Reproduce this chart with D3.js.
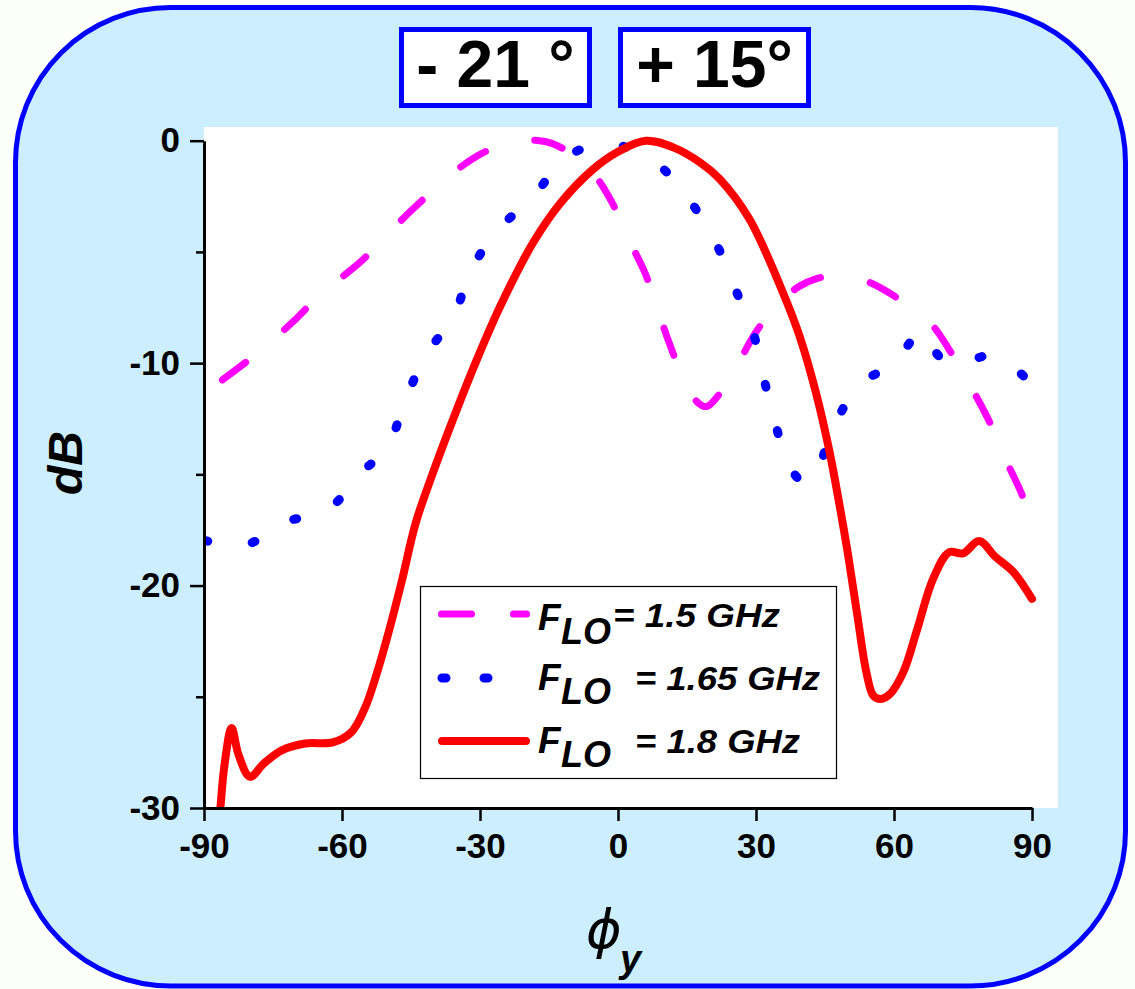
<!DOCTYPE html>
<html>
<head>
<meta charset="utf-8">
<script src="https://cdn.jsdelivr.net/npm/d3@7"></script>
<style>
  body { margin: 0; background: #fdfffd; }
  svg { display: block; font-family: "Liberation Sans", Arial, sans-serif; }
</style>
</head>
<body>
<svg id="chart" width="1135" height="989"></svg>
<script>
// angle (deg) / gain (dB) pairs
const flo15 = [
  [-86, -10.75], [-79, -9.65], [-70.6, -8.13], [-64.8, -6.93], [-56, -5.45], [-51, -4.4],
  [-45, -3.15], [-40, -2.2], [-36.5, -1.54], [-29.6, -0.57], [-25, -0.2], [-21.3, 0],
  [-17, 0], [-14.4, -0.12], [-10, -0.6], [-5.4, -1.46], [-1.4, -2.74], [2.6, -4.54],
  [5.9, -5.96], [8.9, -7.76], [11.3, -9.18], [14.7, -10.95], [17.5, -11.8], [19.3, -11.95],
  [22.2, -11.35], [25.4, -10.38], [27.5, -9.5], [29.8, -8.66], [32.5, -7.9], [35.2, -7.31],
  [39, -6.6], [43.5, -6.18], [48.3, -6.04], [50.8, -6.1], [55, -6.4], [59.1, -6.86],
  [62.8, -7.38], [66.4, -7.83], [69.5, -8.6], [72.5, -9.56], [76.5, -10.98], [80.9, -12.7],
  [83.8, -14.13], [87.8, -15.9], [90.3, -17.4]
];
const flo165 = [
  [-89.8, -17.98], [-85, -18.15], [-81.1, -18.17], [-76, -17.7], [-72, -17.12], [-64.4, -16.75],
  [-60, -16], [-57.2, -15.15], [-53, -14.4], [-49.9, -13.68], [-45.9, -11.52], [-41.8, -9.63],
  [-35.8, -7.94], [-32.3, -6.0], [-26.7, -4.13], [-18.8, -2.59], [-11.9, -0.87], [-7, -0.3],
  [-2.5, -0.15], [2, -0.3], [6.4, -0.72], [10, -1.3], [13.8, -2.15], [19.6, -3.97],
  [22.2, -4.99], [25.9, -6.86], [29.6, -8.78], [31.7, -10.68], [34.1, -12.63], [37.1, -14.58],
  [40, -15.3], [42.5, -15.25], [46.1, -13.23], [50.7, -11.47], [55, -10.6], [59.7, -10.16],
  [63, -9.2], [66, -8.55], [69, -9.5], [72.2, -10.08], [76, -9.9], [81.4, -9.66],
  [86, -10.2], [89.6, -10.86]
];
const flo18 = [
  [-86.6, -30.5], [-85.5, -28], [-84, -26.4], [-82.5, -27.6], [-80, -28.6], [-77, -28],
  [-73, -27.4], [-68, -27.1], [-62, -27.05], [-58, -26.6], [-55, -25.5], [-52.5, -24],
  [-50, -22.2], [-47, -19.8], [-44, -17.2], [-40, -14.8], [-36, -12.6], [-31, -10],
  [-25.5, -7.4], [-18.5, -4.6], [-12.5, -2.8], [-5.5, -1.3], [0, -0.5], [6, 0],
  [12, -0.3], [18, -1.0], [22, -1.7], [28.5, -3.5], [36, -6.9], [39.5, -8.8],
  [43, -11.3], [46, -14], [48, -16.2], [50, -18.6], [52, -21.3], [54, -23.9],
  [55.5, -24.95], [57, -25.1], [59, -24.9], [62, -23.9],
  [65, -22], [68.5, -19.7], [72, -18.5], [75, -18.55], [78.5, -18], [82, -18.7],
  [86, -19.4], [90, -20.6]
];
const xTicks = [-90, -60, -30, 0, 30, 60, 90];
const yTicks = [0, -10, -20, -30];
const yMinor = [-5, -15, -25];
const titles = ["- 21 °", "+ 15°"];
const legendValues = ["= 1.5 GHz", "= 1.65 GHz", "= 1.8 GHz"];

const svg = d3.select('#chart');

// rounded background panel
svg.append('rect')
  .attr('x', 15.5).attr('y', 7.5)
  .attr('width', 1110).attr('height', 978.5)
  .attr('rx', 155).attr('ry', 155)
  .attr('fill', '#cceeff')
  .attr('stroke', '#0000ff')
  .attr('stroke-width', 5);

// title boxes
const titleBoxes = [{x: 401.5, w: 188}, {x: 620.5, w: 188}];
titleBoxes.forEach((b, i) => {
  svg.append('rect')
    .attr('x', b.x).attr('y', 29.5)
    .attr('width', b.w).attr('height', 76)
    .attr('fill', '#fff')
    .attr('stroke', '#0000ff')
    .attr('stroke-width', 5);
  svg.append('text')
    .attr('x', b.x + b.w / 2).attr('y', 87)
    .attr('text-anchor', 'middle')
    .attr('font-size', 66)
    .attr('font-weight', 'bold')
    .text(titles[i]);
});

const x = d3.scaleLinear().domain([-90, 90]).range([204, 1032]);
const y = d3.scaleLinear().domain([-30, 0]).range([808, 140.7]);

// plot area
svg.append('rect')
  .attr('x', 204).attr('y', 127)
  .attr('width', 854).attr('height', 681)
  .attr('fill', '#fff');

svg.append('defs').append('clipPath').attr('id', 'plotclip')
  .append('rect')
  .attr('x', 204).attr('y', 120)
  .attr('width', 860).attr('height', 688);

const line = d3.line()
  .x(d => x(d[0]))
  .y(d => y(d[1]))
  .curve(d3.curveCatmullRom.alpha(0.5));

const series = [
  {data: flo15, color: '#ff00ff', width: 7, dash: '29,51'},
  {data: flo165, color: '#0000ff', width: 9, dash: '3,45'},
  {data: flo18, color: '#ff0000', width: 8, dash: null}
];

const curves = svg.append('g').attr('clip-path', 'url(#plotclip)');
series.forEach(s => {
  curves.append('path')
    .datum(s.data)
    .attr('d', line)
    .attr('fill', 'none')
    .attr('stroke', s.color)
    .attr('stroke-width', s.width)
    .attr('stroke-linecap', 'round')
    .attr('stroke-linejoin', 'round')
    .attr('stroke-dasharray', s.dash);
});

// axes (plain hyphen for negatives, as in the original)
const fmt = d => String(d);
const xAxis = svg.append('g')
  .attr('transform', 'translate(0,808)')
  .call(d3.axisBottom(x).tickValues(xTicks).tickFormat(fmt).tickSize(13).tickSizeOuter(0).tickPadding(12));
const yAxis = svg.append('g')
  .attr('transform', 'translate(204,0)')
  .call(d3.axisLeft(y).tickValues(yTicks).tickFormat(fmt).tickSize(14).tickSizeOuter(0).tickPadding(10));
svg.append('g')
  .attr('transform', 'translate(204,0)')
  .call(d3.axisLeft(y).tickValues(yMinor).tickSize(8).tickFormat(''))
  .select('.domain').remove();

svg.selectAll('.domain').attr('stroke', '#000').attr('stroke-width', 3);
svg.selectAll('.tick line').attr('stroke', '#000').attr('stroke-width', 2.5);
[xAxis, yAxis].forEach(a => a.selectAll('text')
  .attr('font-size', 35)
  .attr('font-weight', 'bold')
  .attr('font-family', '"Liberation Sans", Arial, sans-serif')
  .attr('fill', '#000'));

// axis titles
svg.append('text')
  .attr('transform', 'translate(82,463) rotate(-90)')
  .attr('text-anchor', 'middle')
  .attr('font-size', 48)
  .attr('font-weight', 'bold')
  .attr('font-style', 'italic')
  .text('dB');

svg.append('text')
  .attr('x', 586).attr('y', 948)
  .attr('font-size', 54)
  .attr('font-style', 'italic')
  .attr('font-family', '"DejaVu Sans", sans-serif')
  .text('ϕ');
svg.append('text')
  .attr('x', 620).attr('y', 972)
  .attr('font-size', 38)
  .attr('font-weight', 'bold')
  .attr('font-style', 'italic')
  .text('y');

// legend
svg.append('rect')
  .attr('x', 420.5).attr('y', 586.5)
  .attr('width', 416).attr('height', 192)
  .attr('fill', '#fff')
  .attr('stroke', '#000')
  .attr('stroke-width', 1.2);

const legendRows = [
  {y: 614, color: '#ff00ff', width: 7, dash: '30,42', x1: 441.5, x2: 526.5, base: 630, valX: 613, valBase: 627, valLen: 167},
  {y: 678, color: '#0000ff', width: 9, dash: '4,38', x1: 442, x2: 488, base: 690, valX: 635, valBase: 690, valLen: 185},
  {y: 741, color: '#ff0000', width: 8, dash: null, x1: 442, x2: 526, base: 753, valX: 635, valBase: 753, valLen: 165}
];
legendRows.forEach((r, i) => {
  svg.append('line')
    .attr('x1', r.x1).attr('x2', r.x2)
    .attr('y1', r.y).attr('y2', r.y)
    .attr('stroke', r.color)
    .attr('stroke-width', r.width)
    .attr('stroke-linecap', 'round')
    .attr('stroke-dasharray', r.dash);
  const g = svg.append('g')
    .attr('font-weight', 'bold')
    .attr('font-style', 'italic');
  g.append('text').attr('x', 538).attr('y', r.base).attr('font-size', 37).text('F');
  g.append('text').attr('x', 561).attr('y', r.base + 14).attr('font-size', 36).text('LO');
  g.append('text').attr('x', r.valX).attr('y', r.valBase).attr('font-size', 33)
    .attr('textLength', r.valLen).attr('lengthAdjust', 'spacingAndGlyphs')
    .text(legendValues[i]);
});
</script>
</body>
</html>
